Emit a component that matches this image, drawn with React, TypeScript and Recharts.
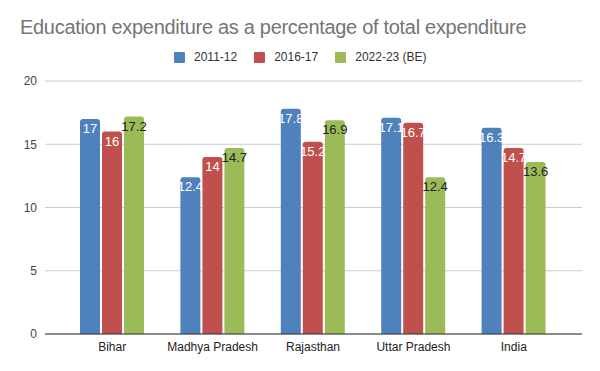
import { BarChart, Bar, XAxis, YAxis, CartesianGrid, LabelList } from "recharts";

const states = ["Bihar", "Madhya Pradesh", "Rajasthan", "Uttar Pradesh", "India"];
const y2011 = [17, 12.4, 17.8, 17.1, 16.3];
const y2016 = [16, 14, 15.2, 16.7, 14.7];
const y2022 = [17.2, 14.7, 16.9, 12.4, 13.6];
const yTicks = [0, 5, 10, 15, 20];

const seriesNames = ["2011-12", "2016-17", "2022-23 (BE)"];
const seriesColors = ["#4f81bd", "#c0504d", "#9bbb59"];
const labelColors = ["#ffffff", "#ffffff", "#222222"];

const chartData = states.map((name, i) => ({
  name,
  [seriesNames[0]]: y2011[i],
  [seriesNames[1]]: y2016[i],
  [seriesNames[2]]: y2022[i],
}));

const font = "'Liberation Sans', Arial, sans-serif";

export default function App() {
  return (
    <div style={{ position: "absolute", left: 0, top: 0, width: 600, height: 371, background: "#fff", fontFamily: font }}>
      <div
        style={{
          position: "absolute",
          left: 20,
          top: 15,
          fontSize: 20,
          letterSpacing: -0.3,
          color: "#757575",
          whiteSpace: "nowrap",
          lineHeight: "24px",
        }}
      >
        Education expenditure as a percentage of total expenditure
      </div>
      {/* legend */}
      <div
        style={{
          position: "absolute",
          top: 50,
          left: 174,
          display: "flex",
          alignItems: "center",
          fontSize: 12,
          color: "#333",
          lineHeight: "14px",
          whiteSpace: "nowrap",
        }}
      >
        {seriesNames.map((n, i) => (
          <div key={n} style={{ display: "flex", alignItems: "center", marginRight: 17 }}>
            <span style={{ width: 11, height: 11, background: seriesColors[i], borderRadius: 1, marginRight: 9, display: "inline-block" }} />
            <span>{n}</span>
          </div>
        ))}
      </div>
      <BarChart
        width={600}
        height={371}
        data={chartData}
        margin={{ top: 81, right: 18, left: 0, bottom: 0 }}
        barCategoryGap={18}
        barGap={2}
      >
        <CartesianGrid vertical={false} stroke="#cccccc" />
        <XAxis
          dataKey="name"
          tickLine={false}
          axisLine={{ stroke: "#333333" }}
          tick={{ fill: "#222222", fontSize: 12, fontFamily: font }}
          height={37}
          padding={{ left: 17, right: 18 }}
        />
        <YAxis
          domain={[0, 20]}
          ticks={yTicks}
          width={45}
          tickLine={false}
          axisLine={false}
          tick={{ fill: "#444444", fontSize: 12, fontFamily: font }}
        />
        {seriesNames.map((n, i) => (
          <Bar key={n} dataKey={n} fill={seriesColors[i]} barSize={20} radius={[3, 3, 0, 0]} isAnimationActive={false}>
            <LabelList dataKey={n} position="insideTop" offset={5} fill={labelColors[i]} fontSize={13} fontFamily={font} />
          </Bar>
        ))}
      </BarChart>
    </div>
  );
}
